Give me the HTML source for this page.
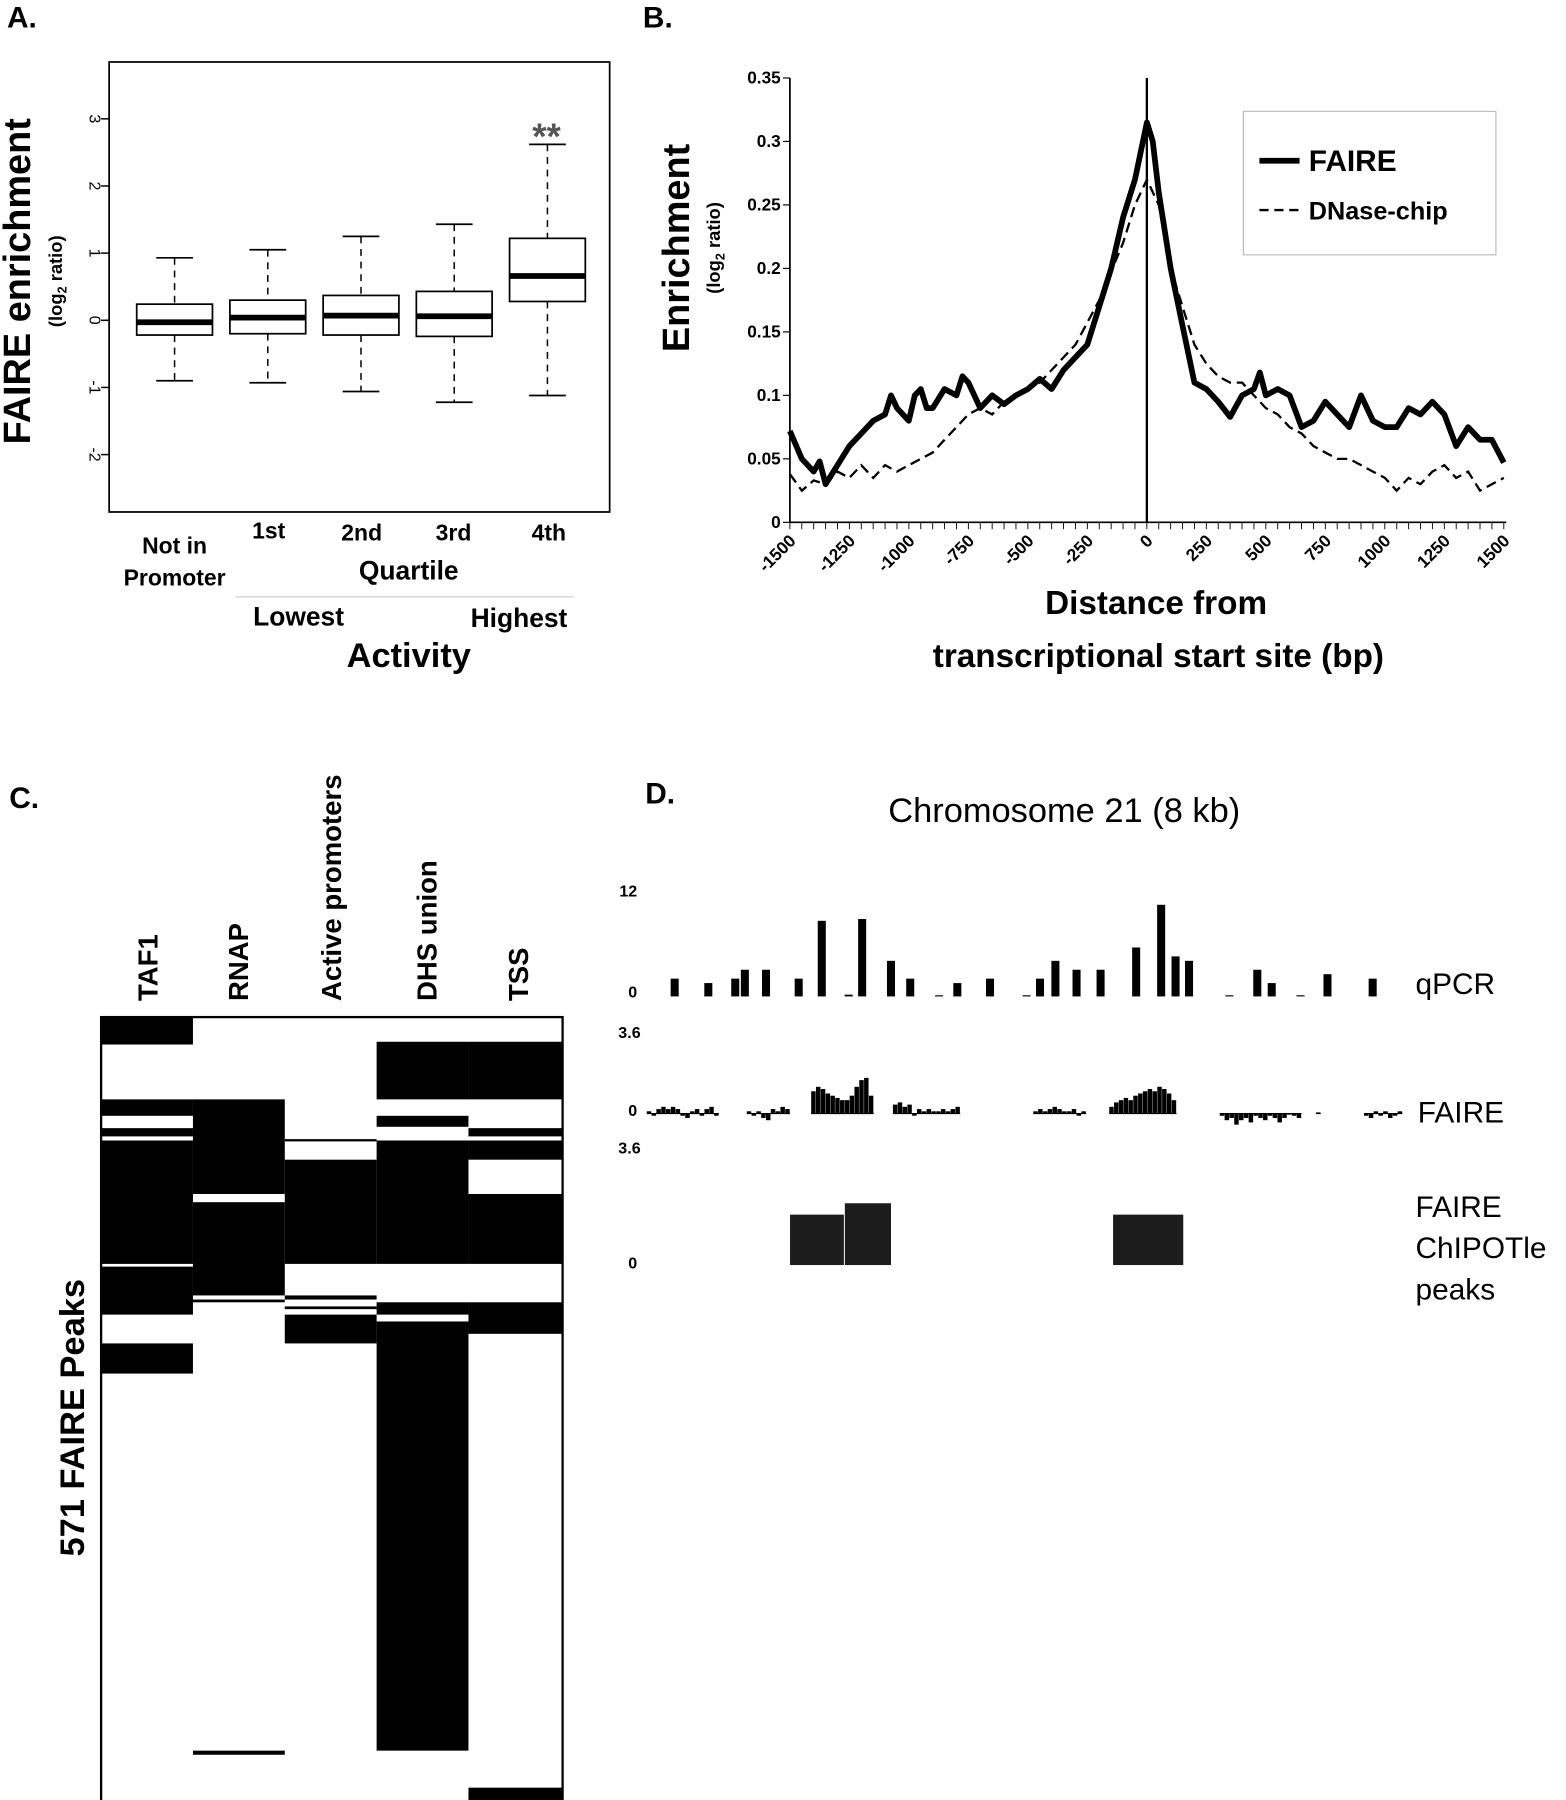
<!DOCTYPE html>
<html><head><meta charset="utf-8"><style>
html,body{margin:0;padding:0;background:#fff}
svg{display:block;font-family:"Liberation Sans",sans-serif}
</style></head><body>
<svg id="fig" width="1566" height="1800" viewBox="0 0 1364 1568" xmlns="http://www.w3.org/2000/svg">
<rect width="1364" height="1568" fill="#fff"/>
<!-- Panel A -->
<g>
<text x="6" y="24" font-size="26" font-weight="bold">A.</text>
<rect x="95" y="54" width="436" height="392" fill="none" stroke="#000" stroke-width="1.5"/>
<text transform="translate(26,245) rotate(-90)" text-anchor="middle" font-size="33" font-weight="bold">FAIRE enrichment</text>
<text transform="translate(54,245) rotate(-90)" text-anchor="middle" font-size="16" font-weight="bold">(log<tspan font-size="11" dy="4">2</tspan><tspan dy="-4"> ratio)</tspan></text>
<g id="aAxis"></g>
<g id="aBoxes"></g>
<text x="476" y="130" text-anchor="middle" font-size="32" fill="#555" font-weight="bold">**</text>
<text x="152" y="482" text-anchor="middle" font-size="20" font-weight="bold">Not in</text>
<text x="152" y="510" text-anchor="middle" font-size="20" font-weight="bold">Promoter</text>
<text x="234" y="469" text-anchor="middle" font-size="20" font-weight="bold">1st</text>
<text x="315" y="471" text-anchor="middle" font-size="20" font-weight="bold">2nd</text>
<text x="395" y="471" text-anchor="middle" font-size="20" font-weight="bold">3rd</text>
<text x="478" y="471" text-anchor="middle" font-size="20" font-weight="bold">4th</text>
<text x="356" y="505" text-anchor="middle" font-size="23" font-weight="bold">Quartile</text>
<line x1="205" y1="520" x2="500" y2="520" stroke="#ccc" stroke-width="1"/>
<text x="260" y="545" text-anchor="middle" font-size="23" font-weight="bold">Lowest</text>
<text x="452" y="546" text-anchor="middle" font-size="23" font-weight="bold">Highest</text>
<text x="356" y="581" text-anchor="middle" font-size="30" font-weight="bold">Activity</text>
</g>
<!-- Panel B -->
<g>
<text x="560" y="24" font-size="26" font-weight="bold">B.</text>
<text transform="translate(600,216) rotate(-90)" text-anchor="middle" font-size="33" font-weight="bold">Enrichment</text>
<text transform="translate(627,216) rotate(-90)" text-anchor="middle" font-size="16" font-weight="bold">(log<tspan font-size="11" dy="4">2</tspan><tspan dy="-4"> ratio)</tspan></text>
<g id="bAxis"></g>
<g id="bLines"></g>
<text x="1007" y="535" text-anchor="middle" font-size="29" font-weight="bold">Distance from</text>
<text x="1009" y="581" text-anchor="middle" font-size="29" font-weight="bold">transcriptional start site (bp)</text>
<g>
<rect x="1083" y="97" width="220" height="125" fill="#fff" stroke="#bbb" stroke-width="1"/>
<line x1="1097" y1="140" x2="1132" y2="140" stroke="#000" stroke-width="5"/>
<text x="1140" y="149" font-size="26" font-weight="bold">FAIRE</text>
<line x1="1097" y1="183" x2="1132" y2="183" stroke="#000" stroke-width="2" stroke-dasharray="8,5"/>
<text x="1140" y="191" font-size="22" font-weight="bold">DNase-chip</text>
</g>
</g>
<!-- Panel C -->
<g>
<text x="8" y="704" font-size="26" font-weight="bold">C.</text>
<g id="cCells"></g>
<rect x="88" y="886" width="402" height="690" fill="none" stroke="#000" stroke-width="2"/>
<text transform="translate(137,872) rotate(-90)" font-size="24" font-weight="bold">TAF1</text>
<text transform="translate(216,872) rotate(-90)" font-size="24" font-weight="bold">RNAP</text>
<text transform="translate(297,872) rotate(-90)" font-size="24" font-weight="bold">Active promoters</text>
<text transform="translate(380,872) rotate(-90)" font-size="24" font-weight="bold">DHS union</text>
<text transform="translate(460,872) rotate(-90)" font-size="24" font-weight="bold">TSS</text>
<text transform="translate(73,1235) rotate(-90)" text-anchor="middle" font-size="30" font-weight="bold">571 FAIRE Peaks</text>
</g>
<!-- Panel D -->
<g>
<text x="562" y="700" font-size="26" font-weight="bold">D.</text>
<text x="927" y="716" text-anchor="middle" font-size="30">Chromosome 21 (8 kb)</text>
<text x="555" y="781" text-anchor="end" font-size="14" font-weight="bold">12</text>
<text x="555" y="869" text-anchor="end" font-size="14" font-weight="bold">0</text>
<text x="558" y="904" text-anchor="end" font-size="14" font-weight="bold">3.6</text>
<text x="555" y="972" text-anchor="end" font-size="14" font-weight="bold">0</text>
<text x="558" y="1005" text-anchor="end" font-size="14" font-weight="bold">3.6</text>
<text x="555" y="1105" text-anchor="end" font-size="14" font-weight="bold">0</text>
<g id="dTracks"></g>
<text x="1233" y="866" font-size="26">qPCR</text>
<text x="1235" y="978" font-size="26">FAIRE</text>
<text x="1233" y="1060" font-size="26">FAIRE</text>
<text x="1233" y="1096" font-size="26">ChIPOTle</text>
<text x="1233" y="1132" font-size="26">peaks</text>
</g>
</svg>
<script>
// ---- Panel A data ----
const aCategories = ["Not in Promoter","1st","2nd","3rd","4th"];
const aWhiskLo = [-0.9,-0.93,-1.06,-1.22,-1.12];
const aQ1 = [-0.22,-0.2,-0.22,-0.24,0.28];
const aMedian = [-0.03,0.04,0.07,0.06,0.66];
const aQ3 = [0.24,0.3,0.37,0.43,1.22];
const aWhiskHi = [0.93,1.05,1.25,1.43,2.62];
const aTicks = [-2,-1,0,1,2,3];
// ---- Panel B data ----
const bX = [-1500,-1450,-1400,-1375,-1350,-1300,-1250,-1200,-1150,-1100,-1075,-1050,-1000,-975,-950,-925,-900,-850,-800,-775,-750,-700,-650,-600,-550,-500,-450,-400,-350,-300,-250,-200,-150,-100,-50,0,25,50,100,150,200,250,300,350,400,450,475,500,550,600,650,700,750,800,850,900,950,1000,1050,1100,1150,1200,1250,1300,1350,1400,1450,1500];
const bFaire = [0.072,0.05,0.04,0.048,0.03,0.045,0.06,0.07,0.08,0.085,0.1,0.09,0.08,0.1,0.105,0.09,0.09,0.105,0.1,0.115,0.11,0.09,0.1,0.093,0.1,0.105,0.113,0.105,0.12,0.13,0.14,0.17,0.2,0.24,0.27,0.315,0.3,0.26,0.2,0.155,0.11,0.105,0.095,0.083,0.1,0.105,0.118,0.1,0.105,0.1,0.075,0.08,0.095,0.085,0.075,0.1,0.08,0.075,0.075,0.09,0.085,0.095,0.085,0.06,0.075,0.065,0.065,0.047];
const bDX = [-1500,-1450,-1400,-1350,-1300,-1250,-1200,-1150,-1100,-1050,-1000,-950,-900,-850,-800,-750,-700,-650,-600,-550,-500,-450,-400,-300,-200,-100,-50,0,50,100,150,200,250,300,350,400,450,500,550,600,650,700,750,800,850,900,950,1000,1050,1100,1150,1200,1250,1300,1350,1400,1450,1500];
const bDnase = [0.038,0.025,0.033,0.03,0.04,0.035,0.045,0.035,0.045,0.04,0.045,0.05,0.055,0.065,0.075,0.085,0.09,0.085,0.095,0.1,0.105,0.11,0.12,0.14,0.175,0.22,0.25,0.27,0.25,0.2,0.17,0.14,0.125,0.115,0.11,0.11,0.1,0.09,0.085,0.075,0.07,0.06,0.055,0.05,0.05,0.045,0.04,0.035,0.025,0.035,0.03,0.04,0.045,0.035,0.04,0.025,0.03,0.035];
const bYTicks = [0,0.05,0.1,0.15,0.2,0.25,0.3,0.35];
const bXTicks = [-1500,-1250,-1000,-750,-500,-250,0,250,500,750,1000,1250,1500];
// ---- Panel C data (peak index ranges, 0..571) ----
const cColumns = ["TAF1","RNAP","Active promoters","DHS union","TSS"];
const cCol = [0,0,0,0,0,0, 1,1,1,1, 2,2,2,2,2, 3,3,3,3,3, 4,4,4,4,4,4];
const cStart = [0,60,81,90,182,238, 60,135,206,535, 89,104,203,211,217, 18,72,90,208,222, 18,81,90,129,208,562];
const cEnd = [20,72,87,180,217,260, 129,203,208,538, 90,180,206,213,238, 60,80,180,217,535, 60,87,104,180,231,571];
const cTotal = 571;
// ---- Panel D data ----
const qKb = [0.33,0.68,0.96,1.06,1.28,1.62,1.86,2.14,2.28,2.58,2.78,3.08,3.27,3.61,3.99,4.13,4.29,4.51,4.76,5.13,5.39,5.54,5.68,6.10,6.39,6.54,6.84,7.12,7.59];
const qVal = [2,1.5,2,3,3,2,8.5,0.2,8.7,4,2,0.1,1.5,2,0.1,2,4,3,3,5.5,10.3,4.5,4,0.1,3,1.5,0.1,2.5,2];
const fSegStart = [0.04,1.08,1.75,2.6,4.06,4.85,6.0,7.0,7.5];
const fSegVals = [
 [0.1,-0.1,0.2,0.3,0.2,0.3,0.2,-0.1,-0.2,0.1,0.2,-0.1,0.2,0.3,-0.1],
 [0.1,-0.1,0.1,-0.2,-0.3,0.2,0.1,0.3,0.2],
 [1.0,1.2,1.1,0.9,0.8,0.7,0.6,0.6,0.8,1.2,1.5,1.6,0.8],
 [0.4,0.5,0.3,0.4,-0.1,0.2,0.1,0.2,0.1,0.1,0.2,0.1,0.2,0.3],
 [0.1,0.2,0.1,0.2,0.3,0.2,0.1,0.1,0.2,-0.1,0.1],
 [0.3,0.5,0.6,0.7,0.6,0.8,0.9,1.0,1.1,1.0,1.2,1.1,0.9,0.6],
 [-0.1,-0.3,-0.2,-0.5,-0.3,-0.2,-0.4,-0.1,-0.2,-0.3,-0.1,-0.2,-0.4,-0.2,0.0,-0.1,-0.2],
 [0.05],
 [-0.1,-0.2,0.1,-0.1,0.1,-0.2,-0.1,0.1]];
const pStartKb = [1.53,2.1,4.89];
const pEndKb = [2.09,2.58,5.62];
const pVal = [1.55,1.9,1.55];

const NS="http://www.w3.org/2000/svg";
function mk(parent,tag,attrs){const e=document.createElementNS(NS,tag);for(const k in attrs)e.setAttribute(k,attrs[k]);parent.appendChild(e);return e;}

// Panel A
const aY=v=>279-v*58.5, aX=i=>152+i*81.2;
const aAx=document.getElementById('aAxis');
aTicks.forEach(t=>{
 const l=mk(aAx,'line',{x1:95,x2:88,y1:aY(t),y2:aY(t),stroke:'#000','stroke-width':1.3});
 
 
 const tx=mk(aAx,'text',{transform:`translate(78,${aY(t)}) rotate(90)`,'text-anchor':'middle','font-size':14});
 tx.textContent=t;
 
 
});
const aB=document.getElementById('aBoxes');
aCategories.forEach((c,i)=>{
 const x=aX(i), w=66;
 const g=mk(aB,'g',{});
 
 
 mk(g,'line',{x1:x,x2:x,y1:aY(aWhiskHi[i]),y2:aY(aQ3[i]),stroke:'#000','stroke-dasharray':'6,5','stroke-width':1.3});
 mk(g,'line',{x1:x,x2:x,y1:aY(aQ1[i]),y2:aY(aWhiskLo[i]),stroke:'#000','stroke-dasharray':'6,5','stroke-width':1.3});
 mk(g,'line',{x1:x-16,x2:x+16,y1:aY(aWhiskHi[i]),y2:aY(aWhiskHi[i]),stroke:'#000','stroke-width':1.5});
 mk(g,'line',{x1:x-16,x2:x+16,y1:aY(aWhiskLo[i]),y2:aY(aWhiskLo[i]),stroke:'#000','stroke-width':1.5});
 mk(g,'rect',{x:x-w/2,y:aY(aQ3[i]),width:w,height:aY(aQ1[i])-aY(aQ3[i]),fill:'#fff',stroke:'#000','stroke-width':1.5});
 mk(g,'line',{x1:x-w/2,x2:x+w/2,y1:aY(aMedian[i]),y2:aY(aMedian[i]),stroke:'#000','stroke-width':5});
});

// Panel B
const bXs=v=>688+(v+1500)*0.2073, bYs=v=>455-v*1106;
const bAx=document.getElementById('bAxis');
mk(bAx,'line',{x1:688,x2:688,y1:68,y2:455,stroke:'#000','stroke-width':1.5});
mk(bAx,'line',{x1:688,x2:1312,y1:455,y2:455,stroke:'#000','stroke-width':1.5});
mk(bAx,'line',{x1:bXs(0),x2:bXs(0),y1:68,y2:455,stroke:'#000','stroke-width':2});
bYTicks.forEach(t=>{
 mk(bAx,'line',{x1:688,x2:682,y1:bYs(t),y2:bYs(t),stroke:'#000'});
 const tx=mk(bAx,'text',{x:680,y:bYs(t)+5,'text-anchor':'end','font-size':15,'font-weight':'bold'});
 tx.textContent=t;
 
 
});
for(let v=-1500;v<=1500;v+=50){mk(bAx,'line',{x1:bXs(v),x2:bXs(v),y1:455,y2:461,stroke:'#000','stroke-width':0.8});}
bXTicks.forEach(t=>{
 const tx=mk(bAx,'text',{transform:`translate(${bXs(t)+6},${472}) rotate(-45)`,'text-anchor':'end','font-size':15,'font-weight':'bold'});
 tx.textContent=t;
 
 
});
const bL=document.getElementById('bLines');
const dp=bDX.map((x,i)=>(i?'L':'M')+bXs(x).toFixed(1)+','+bYs(bDnase[i]).toFixed(1)).join('');
const dl=mk(bL,'path',{d:dp,fill:'none',stroke:'#000','stroke-width':2,'stroke-dasharray':'9,5'});


const fp=bX.map((x,i)=>(i?'L':'M')+bXs(x).toFixed(1)+','+bYs(bFaire[i]).toFixed(1)).join('');
const fl=mk(bL,'path',{d:fp,fill:'none',stroke:'#000','stroke-width':5,'stroke-linejoin':'round'});



// Panel C
const cC=document.getElementById('cCells');
const cX=[88,168,248,328,408,490];
const cY=i=>886+i/cTotal*682;
cCol.forEach((c,i)=>{
 const r=mk(cC,'rect',{x:cX[c],y:cY(cStart[i]),width:cX[c+1]-cX[c],height:Math.max(2,cY(cEnd[i])-cY(cStart[i])),fill:'#000'});
 
 
});

// Panel D
const dT=document.getElementById('dTracks');
const kX=k=>560+k*83.75;
const qY0=868, qS=7.75;
qKb.forEach((k,i)=>{
 const h=Math.max(1,qVal[i]*qS);
 const r=mk(dT,'rect',{x:kX(k)-3.5,y:qY0-h,width:7,height:h,fill:'#000'});
 
 
});
const fY0=970, fS=19.4, bin=0.05;
fSegStart.forEach((s,j)=>{
 fSegVals[j].forEach((v,i)=>{
  const x=kX(s+i*bin), w=bin*83.75;
  const h=Math.abs(v)*fS;
  const r=mk(dT,'rect',{x:x,y:v>=0?fY0-h:fY0,width:w-0.3,height:Math.max(1,h),fill:'#000'});
  
  
 });
 const w=fSegVals[j].length*bin*83.75;
 mk(dT,'line',{x1:kX(s),x2:kX(s)+w,y1:fY0,y2:fY0,stroke:'#000','stroke-width':1});
});
const pY0=1102, pS=102/3.6;
pStartKb.forEach((s,i)=>{
 const h=pVal[i]*pS;
 const r=mk(dT,'rect',{x:kX(s),y:pY0-h,width:kX(pEndKb[i])-kX(s),height:h,fill:'#1c1c1c'});
 
 
});
</script>
</body></html>
